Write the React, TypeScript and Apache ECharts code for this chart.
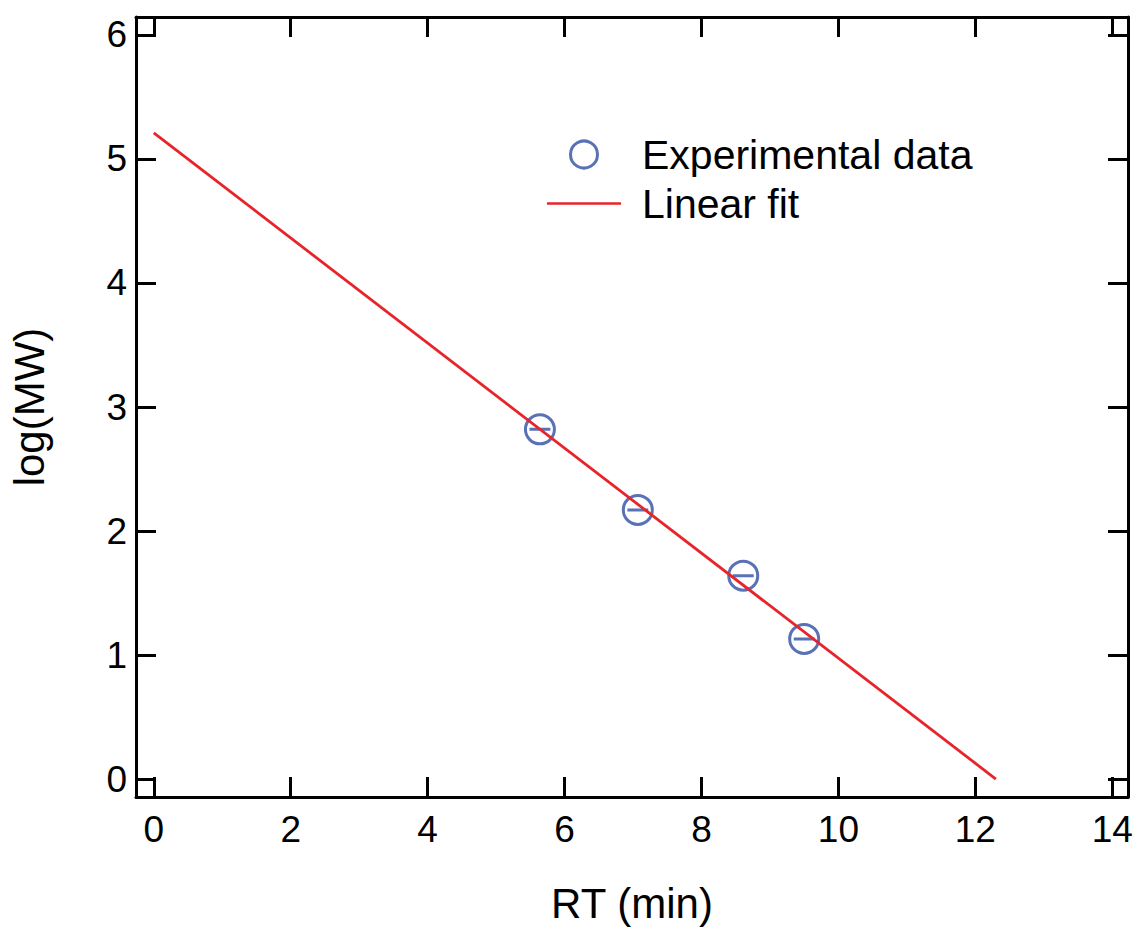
import React, { useEffect, useRef } from "react";
import * as echarts from "echarts";

const rtValues = [5.64, 7.07, 8.61, 9.5];
const logMWValues = [2.82, 2.17, 1.64, 1.13];
const fitRT = [0, 12.3];
const fitLogMW = [5.21, 0];
const xTicks = [0, 2, 4, 6, 8, 10, 12, 14];
const yTicks = [0, 1, 2, 3, 4, 5, 6];
const xRange = [-0.26, 14.23];
const yRange = [-0.145, 6.145];

const FONT = "Arial, 'Liberation Sans', sans-serif";
const BLUE = "#2f4ea3";
const RED = "#e8242b";

export default function App() {
  const ref = useRef<HTMLDivElement>(null);
  useEffect(() => {
    if (!ref.current) return;
    const chart = echarts.init(ref.current, undefined, { renderer: "svg" });
    const axisLine = { show: true, onZero: false, lineStyle: { color: "#000", width: 3 } };
    const tickStyle = (vals: number[]) => ({
      show: true,
      inside: true,
      length: 20,
      customValues: vals,
      lineStyle: { color: "#000", width: 3 },
    });
    const symbolPath =
      "path://M0,-10 A10,10 0 1,1 0,10 A10,10 0 1,1 0,-10 Z M-7.2,0 L7.2,0";
    chart.setOption({
      animation: false,
      backgroundColor: "#fff",
      grid: { left: 134, top: 17, right: 9, bottom: 129, containLabel: false },
      legend: {
        left: 547,
        top: 134,
        padding: 0,
        orient: "vertical",
        itemWidth: 74,
        itemHeight: 27,
        itemGap: 8,
        selectedMode: false,
        textStyle: {
          fontSize: 41,
          lineHeight: 39,
          fontFamily: FONT,
          color: "#000",
          padding: [0, 0, 0, 16],
        },
        data: [
          {
            name: "Experimental data",
            icon: "circle",
            itemStyle: { color: "transparent", borderColor: BLUE, borderWidth: 3 },
          },
          {
            name: "Linear fit",
            icon: "path://M0,0 L74,0 L74,2.6 L0,2.6 Z",
            itemStyle: { color: RED, borderWidth: 0 },
          },
        ],
      },
      xAxis: [
        {
          type: "value",
          position: "bottom",
          min: xRange[0],
          max: xRange[1],
          name: "RT (min)",
          nameLocation: "middle",
          nameGap: 85,
          nameTextStyle: { fontSize: 42, fontFamily: FONT, color: "#000" },
          axisLine,
          axisTick: tickStyle(xTicks),
          axisLabel: {
            customValues: xTicks,
            fontSize: 37,
            fontFamily: FONT,
            color: "#000",
            margin: 14,
          },
          splitLine: { show: false },
        },
        {
          type: "value",
          position: "top",
          min: xRange[0],
          max: xRange[1],
          axisLine,
          axisTick: tickStyle(xTicks),
          axisLabel: { show: false },
          splitLine: { show: false },
        },
      ],
      yAxis: [
        {
          type: "value",
          position: "left",
          min: yRange[0],
          max: yRange[1],
          name: "log(MW)",
          nameLocation: "middle",
          nameGap: 86,
          nameTextStyle: { fontSize: 42, fontFamily: FONT, color: "#000" },
          axisLine,
          axisTick: tickStyle(yTicks),
          axisLabel: {
            customValues: yTicks,
            fontSize: 37,
            fontFamily: FONT,
            color: "#000",
            margin: 9,
          },
          splitLine: { show: false },
        },
        {
          type: "value",
          position: "right",
          min: yRange[0],
          max: yRange[1],
          axisLine,
          axisTick: tickStyle(yTicks),
          axisLabel: { show: false },
          splitLine: { show: false },
        },
      ],
      series: [
        {
          name: "Experimental data",
          type: "scatter",
          symbol: symbolPath,
          symbolSize: 29,
          itemStyle: { color: "transparent", borderColor: BLUE, borderWidth: 3 },
          data: rtValues.map((x, i) => [x, logMWValues[i]]),
          z: 2,
        },
        {
          name: "Linear fit",
          type: "line",
          symbol: "none",
          lineStyle: { color: RED, width: 2.8 },
          itemStyle: { color: RED },
          data: fitRT.map((x, i) => [x, fitLogMW[i]]),
          z: 3,
        },
      ],
    });
    return () => chart.dispose();
  }, []);
  return (
    <div
      ref={ref}
      style={{ position: "fixed", left: 0, top: 0, width: 1137, height: 929, background: "#fff" }}
    />
  );
}
